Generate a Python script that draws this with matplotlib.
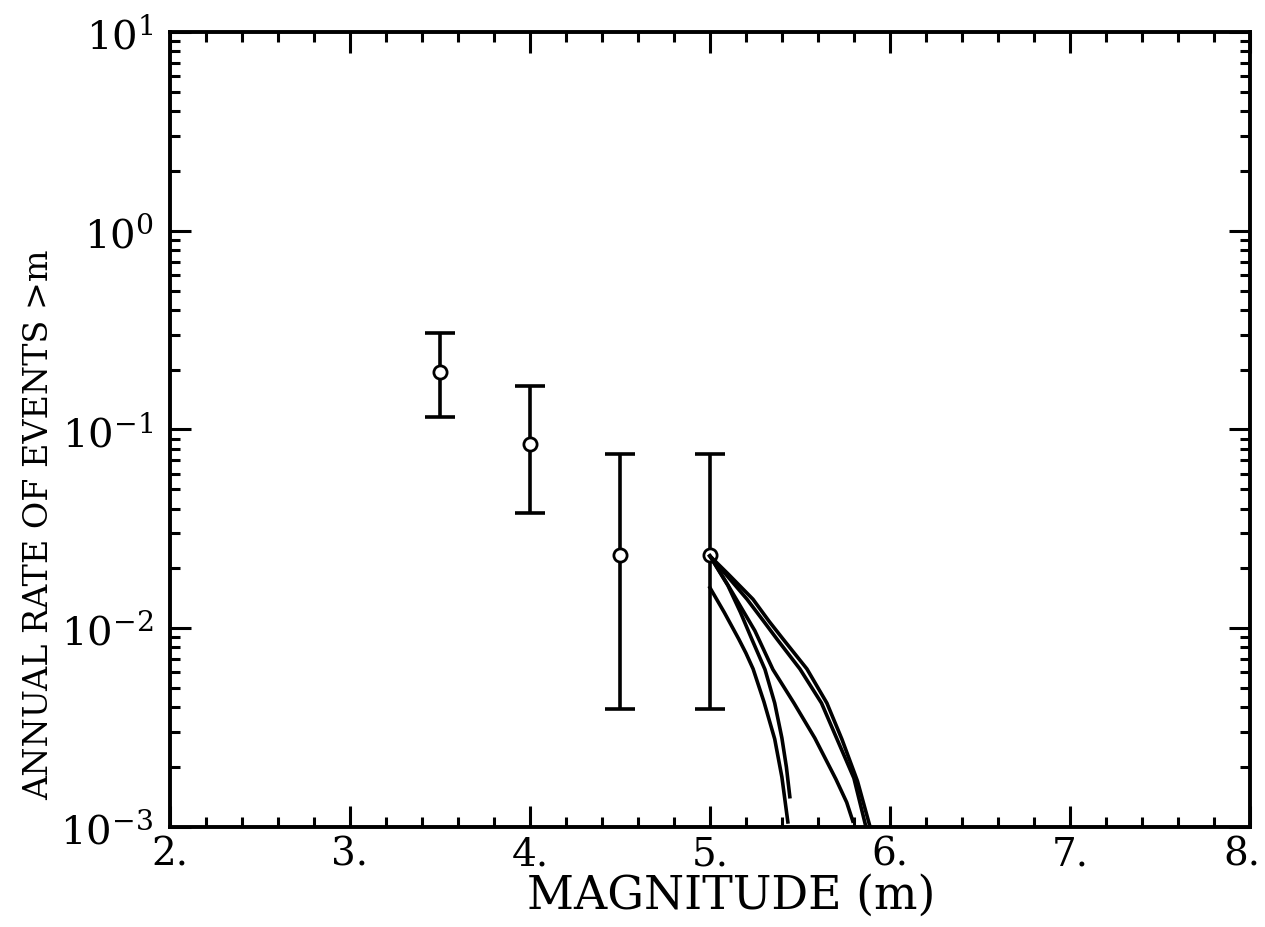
import matplotlib.pyplot as plt
import matplotlib.transforms as mtransforms
import numpy as np
from matplotlib.ticker import LogLocator, NullFormatter, MultipleLocator

# observed rates with error bars
mag_obs = [3.5, 4.0, 4.5, 5.0]
rate_obs = [0.1945, 0.0845, 0.0233, 0.0233]
rate_hi = [0.306, 0.1656, 0.0753, 0.0753]
rate_lo = [0.1156, 0.038, 0.00393, 0.00393]

# recurrence curves
curve_a_m = [5.0, 5.08, 5.16, 5.20, 5.24, 5.30, 5.36, 5.40, 5.433]
curve_a_r = [0.0160, 0.0120, 0.00883, 0.0075, 0.00624, 0.00427, 0.00277, 0.00178, 0.00106]
curve_b_m = [5.0, 5.1, 5.17, 5.233, 5.306, 5.36, 5.40, 5.425, 5.444]
curve_b_r = [0.0231, 0.0164, 0.0120, 0.0088, 0.0062, 0.0042, 0.0028, 0.0020, 0.00142]
curve_c_m = [5.0, 5.1, 5.25, 5.35, 5.467, 5.583, 5.70, 5.76, 5.794]
curve_c_r = [0.0231, 0.0165, 0.0097, 0.0062, 0.0042, 0.0028, 0.00174, 0.00133, 0.00107]
curve_d_m = [5.0, 5.1, 5.206, 5.30, 5.372, 5.5, 5.62, 5.706, 5.80, 5.867]
curve_d_r = [0.0231, 0.01815, 0.0140, 0.0108, 0.00883, 0.00624, 0.0042, 0.00277, 0.00176, 0.0010]
curve_e_m = [5.0, 5.1, 5.239, 5.33, 5.406, 5.539, 5.65, 5.733, 5.82, 5.89]
curve_e_r = [0.0231, 0.0188, 0.0140, 0.0108, 0.00883, 0.00624, 0.0042, 0.00277, 0.0017, 0.0010]

xtick_vals = [2, 3, 4, 5, 6, 7, 8]
xtick_labels = ['2.', '3.', '4.', '5.', '6.', '7.', '8.']
ytick_vals = [1e-3, 1e-2, 1e-1, 1e0, 1e1]
ytick_labels = [r'$10^{-3}$', r'$10^{-2}$', r'$10^{-1}$', r'$10^{0}$', r'$10^{1}$']

plt.rcParams['font.family'] = ['DejaVu Serif']
plt.rcParams['mathtext.fontset'] = 'dejavuserif'

fig = plt.figure(figsize=(12.65, 9.28), dpi=100)
ax = fig.add_axes([0.1344, 0.1078, 0.8536, 0.8566])

lw = 2.6
yerr = [np.array(rate_obs) - np.array(rate_lo), np.array(rate_hi) - np.array(rate_obs)]
ax.errorbar(mag_obs, rate_obs, yerr=yerr, fmt='none', ecolor='black',
            elinewidth=lw, capsize=10.5, capthick=lw)
ax.plot(mag_obs, rate_obs, 'o', mfc='white', mec='black', ms=9.5, mew=2.0)

for m, r in [(curve_a_m, curve_a_r), (curve_b_m, curve_b_r), (curve_c_m, curve_c_r),
             (curve_d_m, curve_d_r), (curve_e_m, curve_e_r)]:
    ax.plot(m, r, color='black', lw=lw, solid_joinstyle='round')

ax.set_yscale('log')
ax.set_xlim(2, 8)
ax.set_ylim(1e-3, 1e1)

ax.set_xticks(xtick_vals)
ax.set_xticklabels(xtick_labels)
ax.xaxis.set_minor_locator(MultipleLocator(0.2))
ax.set_yticks(ytick_vals)
ax.set_yticklabels(ytick_labels)
ax.yaxis.set_minor_locator(LogLocator(base=10, subs=np.arange(2, 10), numticks=20))
ax.yaxis.set_minor_formatter(NullFormatter())

ax.tick_params(which='both', direction='in', top=True, right=True, width=2.2, colors='black')
ax.tick_params(which='major', length=15)
ax.tick_params(which='minor', length=7)
ax.tick_params(axis='x', labelsize=28, pad=6)
ax.tick_params(axis='y', labelsize=29, pad=12)
for s in ax.spines.values():
    s.set_linewidth(2.8)

# nudge the last x label so it stays inside the figure
last = ax.get_xticklabels()[-1]
last.set_transform(last.get_transform() + mtransforms.ScaledTranslation(-6 / 72, 0, fig.dpi_scale_trans))

ax.set_xlabel('MAGNITUDE (m)', fontsize=33)
ax.xaxis.set_label_coords(0.52, -0.057)
ax.set_ylabel('ANNUAL RATE OF EVENTS >m', fontsize=24)
ax.yaxis.set_label_coords(-0.106, 0.382)

fig.savefig('out.png', dpi=100)
